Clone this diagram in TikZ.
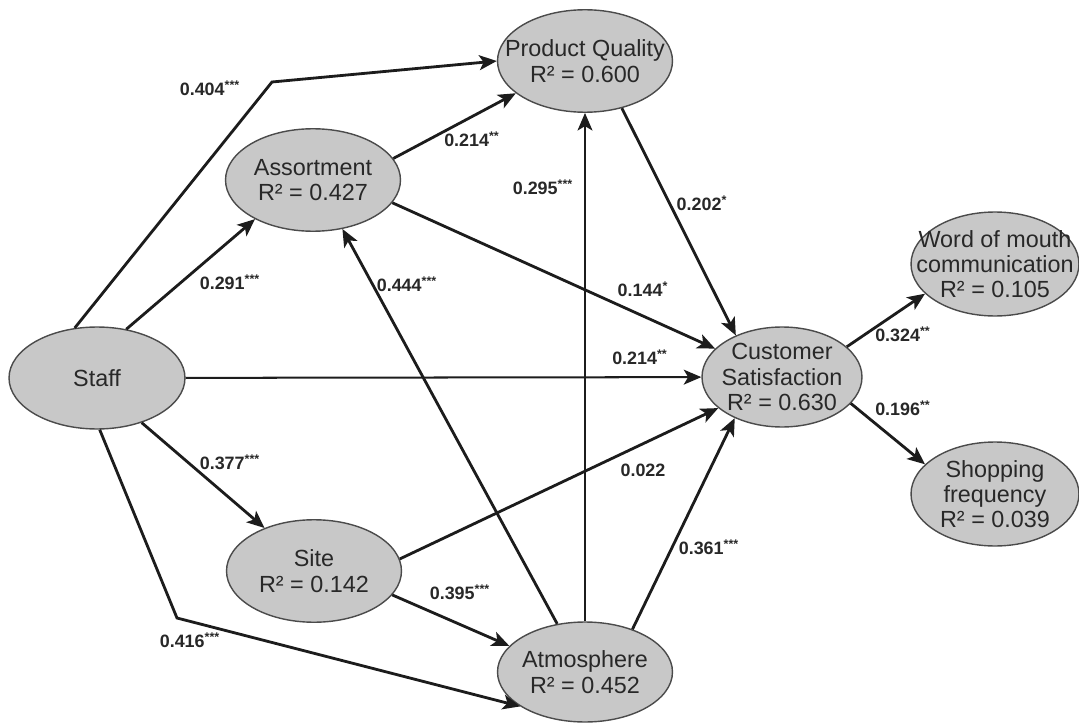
\documentclass[tikz,border=0pt]{standalone}
\usepackage{fontspec}
\setmainfont{Liberation Sans}
\usepackage{xcolor}
\usepackage{tikz}
\usetikzlibrary{shapes.geometric,arrows.meta}

\definecolor{latentgray}{RGB}{200,200,200}
\definecolor{bordergray}{RGB}{75,75,75}
\definecolor{edgegray}{RGB}{28,28,28}
\definecolor{txtgray}{RGB}{40,40,40}

\tikzset{
  latent/.style={ellipse, draw=bordergray, fill=latentgray, line width=0.8pt, inner sep=0pt,
    minimum width=3.5cm, minimum height=2.05cm},
  latenttxt/.style={align=center, text=txtgray, font=\fontsize{13.3}{14.4}\selectfont},
  effect/.style={-{Stealth[length=10pt,width=8.5pt,inset=2.5pt]}, line width=1.6pt, draw=edgegray},
  thineffect/.style={effect, line width=1.15pt},
  coef/.style={font=\bfseries\fontsize{10.2}{12}\selectfont, text=txtgray, inner sep=0pt},
}

\begin{document}
\begin{tikzpicture}[x=0.02cm, y=-0.02cm]
    \useasboundingbox (0,0) rectangle (1079,723);

    \node[latent, minimum width=3.52cm, minimum height=2.04cm] (staff) at (97,378) {};
    \node[latent] (asso) at (313,180) {};
    \node[latent] (pq) at (585,61) {};
    \node[latent, minimum width=3.2cm, minimum height=2cm] (cs) at (782,377) {};
    \node[latent, minimum width=3.36cm, minimum height=2.08cm] (wom) at (995,264) {};
    \node[latent, minimum width=3.36cm, minimum height=2.08cm] (shop) at (995,494) {};
    \node[latent] (site) at (314,571) {};
    \node[latent, minimum height=2cm] (atm) at (585,672) {};

    \node[latenttxt] (staff-t) at (staff) {Staff};
    \node[latenttxt] (asso-t) at (asso) {Assortment\\R² = 0.427};
    \node[latenttxt] (pq-t) at (pq) {Product Quality\\R² = 0.600};
    \node[latenttxt] (cs-t) at (cs) {Customer\\Satisfaction\\R² = 0.630};
    \node[latenttxt] (wom-t) at (995,264) {Word of mouth\\communication\\R² = 0.105};
    \node[latenttxt] (shop-t) at (shop) {Shopping\\frequency\\R² = 0.039};
    \node[latenttxt] (site-t) at (site) {Site\\R² = 0.142};
    \node[latenttxt] (atm-t) at (atm) {Atmosphere\\R² = 0.452};

    \coordinate (bend1) at (272,82);
    \coordinate (bend2) at (177,618);

    \draw[effect] (staff.114) -- (bend1) -- (pq.west);
    \draw[effect] (staff.59) -- (asso.214);
    \draw[thineffect] (staff) -- (cs);
    \draw[effect] (staff.-45) -- (site.139);
    \draw[effect] (staff.-87) -- (bend2) -- (atm.208);
    \draw[effect] (asso.15) -- (pq.205);
    \draw[effect] (asso.-16) -- (cs.157);
    \draw[effect] (site.-17) -- (atm.161);
    \draw[effect] (site.8) -- (cs.206);
    \draw[effect] (atm.120) -- (asso.-59);
    \draw[thineffect] (atm) -- (pq);
    \draw[effect] (atm.42) -- (cs.221);
    \draw[effect] (pq.-52) -- (cs.138);
    \draw[effect] (cs.25) -- (wom.203);
    \draw[effect] (cs.-21) -- (shop.157);

    \node[coef] (c-staff-pq) at (210,88) {0.404\textsuperscript{***}};
    \node[coef] (c-staff-asso) at (230,282) {0.291\textsuperscript{***}};
    \node[coef] (c-asso-pq) at (472,139) {0.214\textsuperscript{**}};
    \node[coef] (c-atm-pq) at (543,187) {0.295\textsuperscript{***}};
    \node[coef] (c-pq-cs) at (702,203) {0.202\textsuperscript{*}};
    \node[coef] (c-atm-asso) at (407,284) {0.444\textsuperscript{***}};
    \node[coef] (c-asso-cs) at (643,289) {0.144\textsuperscript{*}};
    \node[coef] (c-staff-cs) at (640,357) {0.214\textsuperscript{**}};
    \node[coef] (c-cs-wom) at (903,334) {0.324\textsuperscript{**}};
    \node[coef] (c-cs-shop) at (903,408) {0.196\textsuperscript{**}};
    \node[coef] (c-staff-site) at (230,462) {0.377\textsuperscript{***}};
    \node[coef] (c-site-atm) at (460,592) {0.395\textsuperscript{***}};
    \node[coef] (c-staff-atm) at (190,640) {0.416\textsuperscript{***}};
    \node[coef] (c-site-cs) at (643,470) {0.022};
    \node[coef] (c-atm-cs) at (709,547) {0.361\textsuperscript{***}};
\end{tikzpicture}
\end{document}
